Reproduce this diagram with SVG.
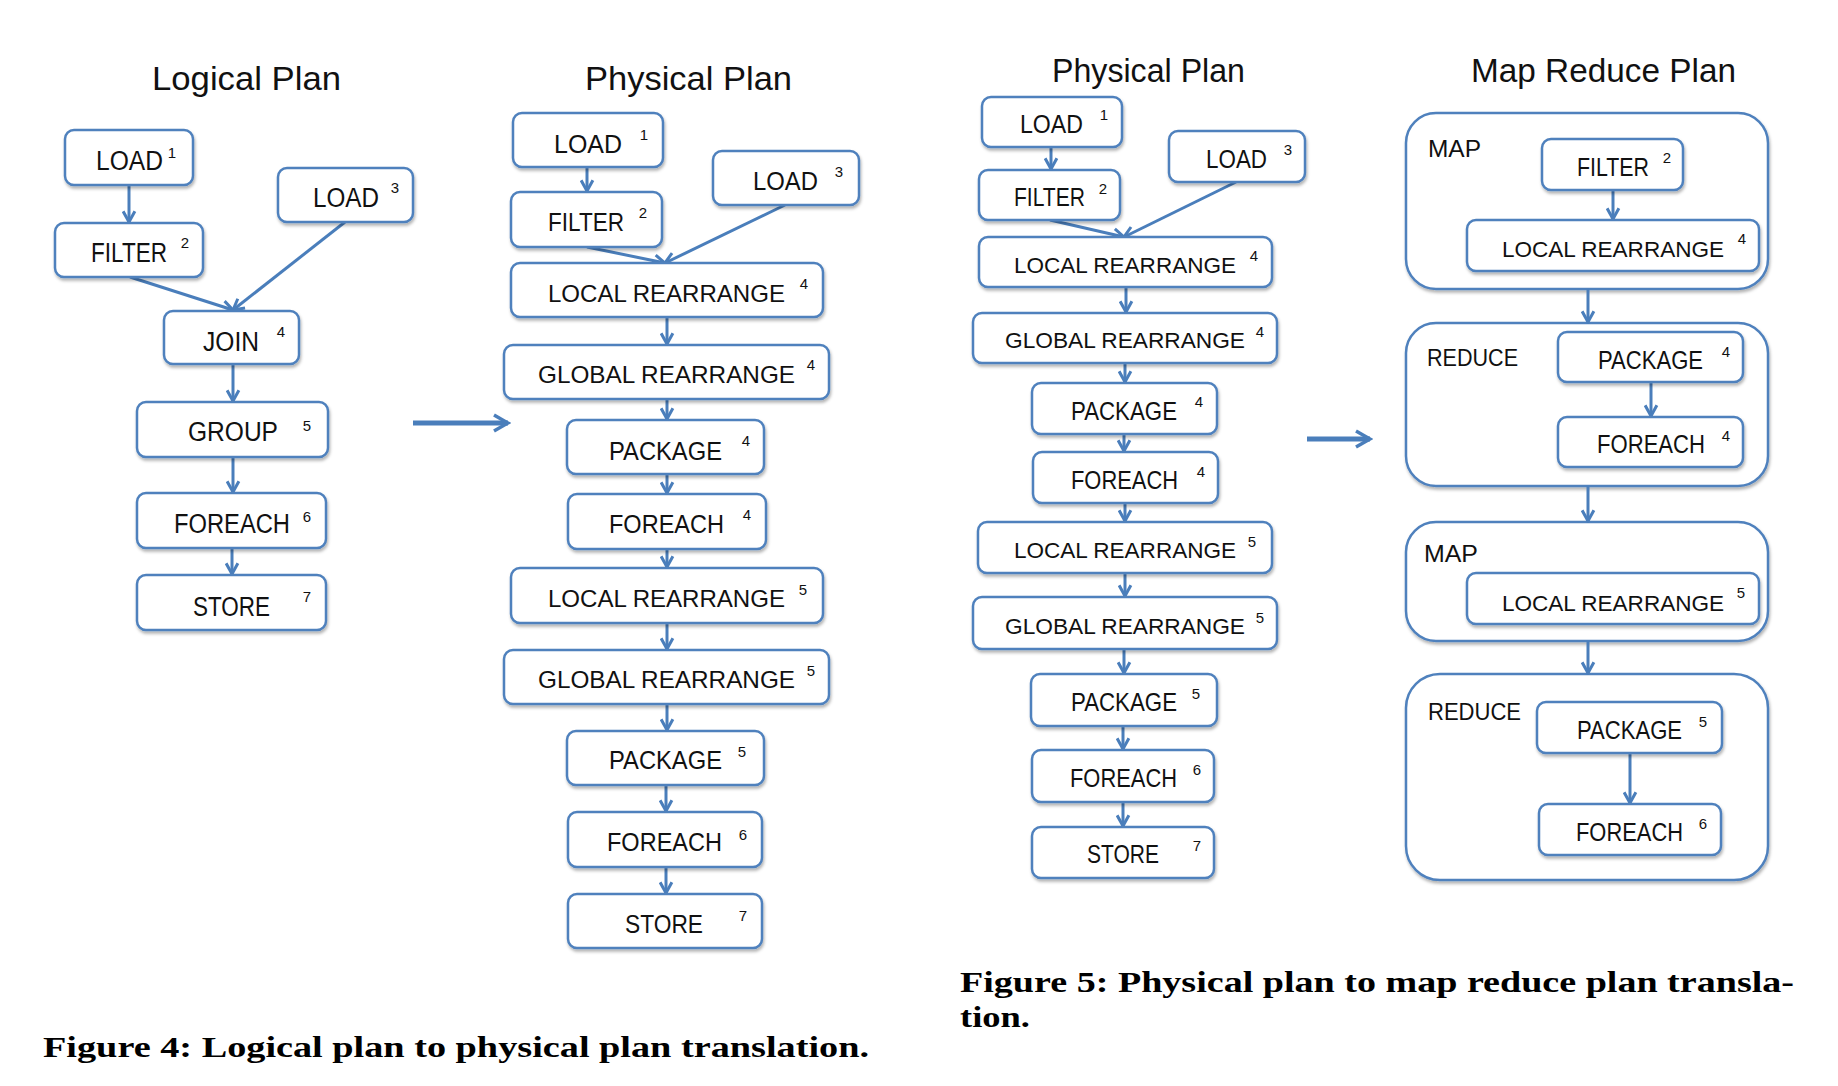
<svg xmlns="http://www.w3.org/2000/svg" width="1838" height="1086" viewBox="0 0 1838 1086">
<defs>
<filter id="sh" x="-10%" y="-10%" width="130%" height="140%">
<feDropShadow dx="1" dy="2.5" stdDeviation="1.5" flood-color="#000" flood-opacity="0.3"/>
</filter>
<marker id="ah" viewBox="0 0 14 14" refX="12" refY="7" markerWidth="15" markerHeight="15" markerUnits="userSpaceOnUse" orient="auto">
<path d="M2,1.5 L12,7 L2,12.5" fill="none" stroke="#4a7ebb" stroke-width="2.8" stroke-linejoin="miter"/>
</marker>
<marker id="bh" viewBox="0 0 20 20" refX="17" refY="10" markerWidth="20" markerHeight="20" markerUnits="userSpaceOnUse" orient="auto">
<path d="M3,2 L17,10 L3,18" fill="none" stroke="#4a7ebb" stroke-width="3.5"/>
</marker>
</defs>
<style>
.box{fill:#fff;stroke:#4f81bd;stroke-width:2.5;filter:url(#sh)}
.grp{fill:#fff;stroke:#4f81bd;stroke-width:2.5;filter:url(#sh)}
text{font-family:"Liberation Sans",Arial,sans-serif;fill:#111}
.l{font-size:25px}
.l1{font-size:27px}
.w1{font-size:23.4px}
.w2{font-size:22px}
.s{font-size:15px;text-anchor:middle}
.t{font-size:34px}
.gl{font-size:24px}
.cap{font-family:"Liberation Serif","Times New Roman",serif;font-weight:bold;font-size:29px;fill:#000}
.c line{stroke:#4a7ebb;stroke-width:3;marker-end:url(#ah)}
.big{stroke:#4a7ebb;stroke-width:5;marker-end:url(#bh)}
</style>

<!-- Titles -->
<text class="t" x="152" y="90" textLength="189" lengthAdjust="spacingAndGlyphs">Logical Plan</text>
<text class="t" x="585" y="90" textLength="207" lengthAdjust="spacingAndGlyphs">Physical Plan</text>
<text class="t" x="1052" y="82" textLength="193" lengthAdjust="spacingAndGlyphs">Physical Plan</text>
<text class="t" x="1471" y="82" textLength="265" lengthAdjust="spacingAndGlyphs">Map Reduce Plan</text>

<!-- Map reduce containers -->
<g id="mr-map1"><rect class="grp" x="1406" y="113" width="362" height="176" rx="30"/><text class="gl" x="1428" y="157" textLength="53" lengthAdjust="spacingAndGlyphs">MAP</text></g>
<g id="mr-reduce1"><rect class="grp" x="1406" y="323" width="362" height="163" rx="30"/><text class="gl" x="1427" y="366" textLength="91" lengthAdjust="spacingAndGlyphs">REDUCE</text></g>
<g id="mr-map2"><rect class="grp" x="1406" y="522" width="362" height="119" rx="30"/><text class="gl" x="1424" y="562" textLength="54" lengthAdjust="spacingAndGlyphs">MAP</text></g>
<g id="mr-reduce2"><rect class="grp" x="1406" y="674" width="362" height="206" rx="34"/><text class="gl" x="1428" y="720" textLength="93" lengthAdjust="spacingAndGlyphs">REDUCE</text></g>

<!-- Connectors -->
<g id="connectors" class="c">
<line x1="129" y1="185" x2="129" y2="222"/>
<line x1="130" y1="277" x2="233" y2="310"/>
<line x1="345" y1="222" x2="233" y2="310"/>
<line x1="233" y1="364" x2="233" y2="401"/>
<line x1="233" y1="457" x2="233" y2="492"/>
<line x1="232" y1="548" x2="232" y2="574"/>

<line x1="587" y1="167" x2="587" y2="191"/>
<line x1="587" y1="247" x2="665" y2="263"/>
<line x1="785" y1="205" x2="665" y2="263"/>
<line x1="667" y1="317" x2="667" y2="344"/>
<line x1="667" y1="399" x2="667" y2="419"/>
<line x1="667" y1="474" x2="667" y2="493"/>
<line x1="667" y1="549" x2="667" y2="567"/>
<line x1="667" y1="623" x2="667" y2="649"/>
<line x1="667" y1="704" x2="667" y2="730"/>
<line x1="666" y1="785" x2="666" y2="811"/>
<line x1="666" y1="867" x2="666" y2="893"/>

<line x1="1051" y1="147" x2="1051" y2="169"/>
<line x1="1050" y1="220" x2="1124" y2="237"/>
<line x1="1236" y1="182" x2="1124" y2="237"/>
<line x1="1126" y1="287" x2="1126" y2="312"/>
<line x1="1125" y1="363" x2="1125" y2="382"/>
<line x1="1124" y1="434" x2="1124" y2="451"/>
<line x1="1125" y1="503" x2="1125" y2="521"/>
<line x1="1125" y1="573" x2="1125" y2="596"/>
<line x1="1124" y1="649" x2="1124" y2="673"/>
<line x1="1123" y1="726" x2="1123" y2="749"/>
<line x1="1123" y1="802" x2="1123" y2="826"/>

<line x1="1613" y1="190" x2="1613" y2="219"/>
<line x1="1588" y1="289" x2="1588" y2="322"/>
<line x1="1651" y1="382" x2="1651" y2="416"/>
<line x1="1588" y1="486" x2="1588" y2="521"/>
<line x1="1588" y1="641" x2="1588" y2="673"/>
<line x1="1630" y1="753" x2="1630" y2="803"/>

<line class="big" x1="413" y1="423" x2="508" y2="423" style="marker-end:url(#bh);stroke-width:5"/>
<line class="big" x1="1307" y1="439" x2="1370" y2="439" style="marker-end:url(#bh);stroke-width:5"/>
</g>

<!-- Logical plan nodes -->
<g id="lp-load1"><rect class="box" x="65" y="130" width="128" height="55" rx="9"/><text class="l1" x="96" y="170" textLength="67" lengthAdjust="spacingAndGlyphs">LOAD</text><text class="s" x="172" y="158">1</text></g>
<g id="lp-load3"><rect class="box" x="278" y="168" width="135" height="54" rx="9"/><text class="l1" x="313" y="207" textLength="66" lengthAdjust="spacingAndGlyphs">LOAD</text><text class="s" x="395" y="193">3</text></g>
<g id="lp-filter2"><rect class="box" x="55" y="223" width="148" height="54" rx="9"/><text class="l1" x="91" y="262" textLength="76" lengthAdjust="spacingAndGlyphs">FILTER</text><text class="s" x="185" y="248">2</text></g>
<g id="lp-join4"><rect class="box" x="164" y="311" width="135" height="53" rx="9"/><text class="l1" x="203" y="351" textLength="56" lengthAdjust="spacingAndGlyphs">JOIN</text><text class="s" x="281" y="337">4</text></g>
<g id="lp-group5"><rect class="box" x="137" y="402" width="191" height="55" rx="9"/><text class="l1" x="188" y="441" textLength="90" lengthAdjust="spacingAndGlyphs">GROUP</text><text class="s" x="307" y="431">5</text></g>
<g id="lp-foreach6"><rect class="box" x="137" y="493" width="189" height="55" rx="9"/><text class="l1" x="174" y="533" textLength="116" lengthAdjust="spacingAndGlyphs">FOREACH</text><text class="s" x="307" y="522">6</text></g>
<g id="lp-store7"><rect class="box" x="137" y="575" width="189" height="55" rx="9"/><text class="l1" x="193" y="616" textLength="77" lengthAdjust="spacingAndGlyphs">STORE</text><text class="s" x="307" y="602">7</text></g>

<!-- Physical plan (fig 4) nodes -->
<g id="pp1-load1"><rect class="box" x="513" y="113" width="150" height="54" rx="9"/><text class="l" x="554" y="153" textLength="68" lengthAdjust="spacingAndGlyphs">LOAD</text><text class="s" x="644" y="140">1</text></g>
<g id="pp1-filter2"><rect class="box" x="511" y="192" width="151" height="55" rx="9"/><text class="l" x="548" y="231" textLength="76" lengthAdjust="spacingAndGlyphs">FILTER</text><text class="s" x="643" y="218">2</text></g>
<g id="pp1-load3"><rect class="box" x="713" y="151" width="146" height="54" rx="9"/><text class="l" x="753" y="190" textLength="65" lengthAdjust="spacingAndGlyphs">LOAD</text><text class="s" x="839" y="177">3</text></g>
<g id="pp1-lr4"><rect class="box" x="511" y="263" width="312" height="54" rx="9"/><text class="w1" x="548" y="302" textLength="237" lengthAdjust="spacingAndGlyphs">LOCAL REARRANGE</text><text class="s" x="804" y="289">4</text></g>
<g id="pp1-gr4"><rect class="box" x="504" y="345" width="325" height="54" rx="9"/><text class="w1" x="538" y="383" textLength="257" lengthAdjust="spacingAndGlyphs">GLOBAL REARRANGE</text><text class="s" x="811" y="370">4</text></g>
<g id="pp1-pk4"><rect class="box" x="567" y="420" width="197" height="54" rx="9"/><text class="l" x="609" y="460" textLength="113" lengthAdjust="spacingAndGlyphs">PACKAGE</text><text class="s" x="746" y="446">4</text></g>
<g id="pp1-fe4"><rect class="box" x="568" y="494" width="198" height="55" rx="9"/><text class="l" x="609" y="533" textLength="115" lengthAdjust="spacingAndGlyphs">FOREACH</text><text class="s" x="747" y="520">4</text></g>
<g id="pp1-lr5"><rect class="box" x="511" y="568" width="312" height="55" rx="9"/><text class="w1" x="548" y="607" textLength="237" lengthAdjust="spacingAndGlyphs">LOCAL REARRANGE</text><text class="s" x="803" y="595">5</text></g>
<g id="pp1-gr5"><rect class="box" x="504" y="650" width="325" height="54" rx="9"/><text class="w1" x="538" y="688" textLength="257" lengthAdjust="spacingAndGlyphs">GLOBAL REARRANGE</text><text class="s" x="811" y="676">5</text></g>
<g id="pp1-pk5"><rect class="box" x="567" y="731" width="197" height="54" rx="9"/><text class="l" x="609" y="769" textLength="113" lengthAdjust="spacingAndGlyphs">PACKAGE</text><text class="s" x="742" y="757">5</text></g>
<g id="pp1-fe6"><rect class="box" x="568" y="812" width="194" height="55" rx="9"/><text class="l" x="607" y="851" textLength="115" lengthAdjust="spacingAndGlyphs">FOREACH</text><text class="s" x="743" y="840">6</text></g>
<g id="pp1-st7"><rect class="box" x="568" y="894" width="194" height="54" rx="9"/><text class="l" x="625" y="933" textLength="78" lengthAdjust="spacingAndGlyphs">STORE</text><text class="s" x="743" y="921">7</text></g>

<!-- Physical plan (fig 5) nodes -->
<g id="pp2-load1"><rect class="box" x="982" y="97" width="140" height="50" rx="9"/><text class="l" x="1020" y="133" textLength="63" lengthAdjust="spacingAndGlyphs">LOAD</text><text class="s" x="1104" y="120">1</text></g>
<g id="pp2-filter2"><rect class="box" x="979" y="170" width="141" height="50" rx="9"/><text class="l" x="1014" y="206" textLength="71" lengthAdjust="spacingAndGlyphs">FILTER</text><text class="s" x="1103" y="194">2</text></g>
<g id="pp2-load3"><rect class="box" x="1169" y="131" width="136" height="51" rx="9"/><text class="l" x="1206" y="168" textLength="61" lengthAdjust="spacingAndGlyphs">LOAD</text><text class="s" x="1288" y="155">3</text></g>
<g id="pp2-lr4"><rect class="box" x="979" y="237" width="293" height="50" rx="9"/><text class="w2" x="1014" y="273" textLength="222" lengthAdjust="spacingAndGlyphs">LOCAL REARRANGE</text><text class="s" x="1254" y="261">4</text></g>
<g id="pp2-gr4"><rect class="box" x="973" y="313" width="304" height="50" rx="9"/><text class="w2" x="1005" y="348" textLength="240" lengthAdjust="spacingAndGlyphs">GLOBAL REARRANGE</text><text class="s" x="1260" y="337">4</text></g>
<g id="pp2-pk4"><rect class="box" x="1032" y="383" width="185" height="51" rx="9"/><text class="l" x="1071" y="420" textLength="106" lengthAdjust="spacingAndGlyphs">PACKAGE</text><text class="s" x="1199" y="407">4</text></g>
<g id="pp2-fe4"><rect class="box" x="1033" y="452" width="185" height="51" rx="9"/><text class="l" x="1071" y="489" textLength="107" lengthAdjust="spacingAndGlyphs">FOREACH</text><text class="s" x="1201" y="477">4</text></g>
<g id="pp2-lr5"><rect class="box" x="978" y="522" width="294" height="51" rx="9"/><text class="w2" x="1014" y="558" textLength="222" lengthAdjust="spacingAndGlyphs">LOCAL REARRANGE</text><text class="s" x="1252" y="547">5</text></g>
<g id="pp2-gr5"><rect class="box" x="973" y="597" width="304" height="52" rx="9"/><text class="w2" x="1005" y="634" textLength="240" lengthAdjust="spacingAndGlyphs">GLOBAL REARRANGE</text><text class="s" x="1260" y="623">5</text></g>
<g id="pp2-pk5"><rect class="box" x="1031" y="674" width="186" height="52" rx="9"/><text class="l" x="1071" y="711" textLength="106" lengthAdjust="spacingAndGlyphs">PACKAGE</text><text class="s" x="1196" y="699">5</text></g>
<g id="pp2-fe6"><rect class="box" x="1032" y="750" width="182" height="52" rx="9"/><text class="l" x="1070" y="787" textLength="107" lengthAdjust="spacingAndGlyphs">FOREACH</text><text class="s" x="1197" y="775">6</text></g>
<g id="pp2-st7"><rect class="box" x="1032" y="827" width="182" height="51" rx="9"/><text class="l" x="1087" y="863" textLength="72" lengthAdjust="spacingAndGlyphs">STORE</text><text class="s" x="1197" y="851">7</text></g>

<!-- Map reduce nodes -->
<g id="mr-filter2"><rect class="box" x="1542" y="139" width="141" height="51" rx="9"/><text class="l" x="1577" y="176" textLength="72" lengthAdjust="spacingAndGlyphs">FILTER</text><text class="s" x="1667" y="163">2</text></g>
<g id="mr-lr4"><rect class="box" x="1467" y="220" width="292" height="51" rx="9"/><text class="w2" x="1502" y="257" textLength="222" lengthAdjust="spacingAndGlyphs">LOCAL REARRANGE</text><text class="s" x="1742" y="244">4</text></g>
<g id="mr-pk4"><rect class="box" x="1558" y="332" width="185" height="50" rx="9"/><text class="l" x="1598" y="369" textLength="105" lengthAdjust="spacingAndGlyphs">PACKAGE</text><text class="s" x="1726" y="357">4</text></g>
<g id="mr-fe4"><rect class="box" x="1558" y="417" width="185" height="50" rx="9"/><text class="l" x="1597" y="453" textLength="108" lengthAdjust="spacingAndGlyphs">FOREACH</text><text class="s" x="1726" y="441">4</text></g>
<g id="mr-lr5"><rect class="box" x="1467" y="573" width="292" height="51" rx="9"/><text class="w2" x="1502" y="611" textLength="222" lengthAdjust="spacingAndGlyphs">LOCAL REARRANGE</text><text class="s" x="1741" y="598">5</text></g>
<g id="mr-pk5"><rect class="box" x="1537" y="702" width="185" height="51" rx="9"/><text class="l" x="1577" y="739" textLength="105" lengthAdjust="spacingAndGlyphs">PACKAGE</text><text class="s" x="1703" y="727">5</text></g>
<g id="mr-fe6"><rect class="box" x="1539" y="804" width="182" height="51" rx="9"/><text class="l" x="1576" y="841" textLength="107" lengthAdjust="spacingAndGlyphs">FOREACH</text><text class="s" x="1703" y="829">6</text></g>

<!-- Captions -->
<text class="cap" x="43" y="1057" textLength="826" lengthAdjust="spacingAndGlyphs">Figure 4: Logical plan to physical plan translation.</text>
<text class="cap" x="960" y="992" textLength="834" lengthAdjust="spacingAndGlyphs">Figure 5: Physical plan to map reduce plan transla-</text>
<text class="cap" x="960" y="1027" textLength="70" lengthAdjust="spacingAndGlyphs">tion.</text>
</svg>
